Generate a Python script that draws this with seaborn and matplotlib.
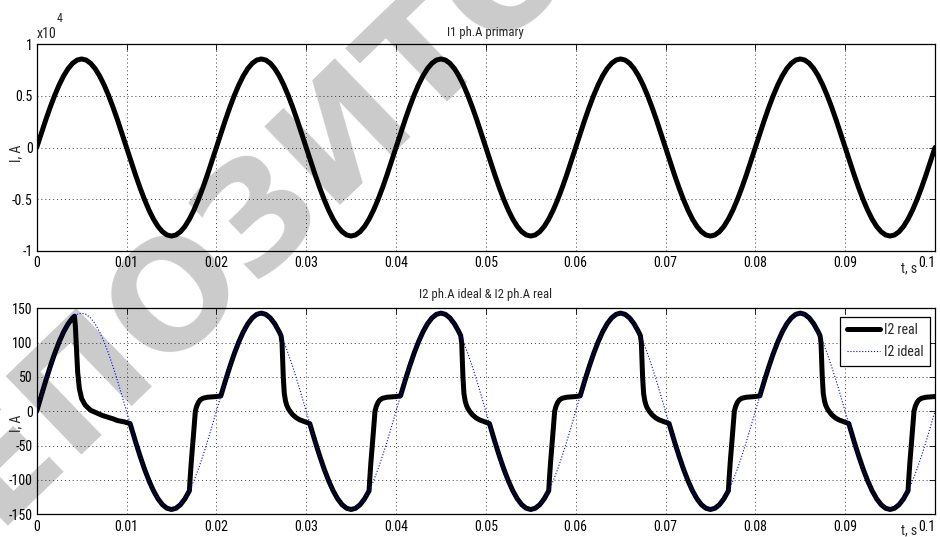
import os
import numpy as np
import pandas as pd
import matplotlib
matplotlib.use("Agg")
import matplotlib.pyplot as plt
from matplotlib import font_manager as fm
from matplotlib.font_manager import FontProperties
import seaborn as sns

# ---------------- data ----------------
t_fine = np.linspace(0.0, 0.1, 201)          # sampling time base, s

i1_primary = [
    0, 1342, 2651, 3895, 5043, 6067, 6941, 7645, 8160, 8474, 8580, 8474, 8160, 7645, 6941, 6067, 5043, 3895, 2651, 1342,
    0, -1342, -2651, -3895, -5043, -6067, -6941, -7645, -8160, -8474, -8580, -8474, -8160, -7645, -6941, -6067, -5043, -3895, -2651, -1342,
    0, 1342, 2651, 3895, 5043, 6067, 6941, 7645, 8160, 8474, 8580, 8474, 8160, 7645, 6941, 6067, 5043, 3895, 2651, 1342,
    0, -1342, -2651, -3895, -5043, -6067, -6941, -7645, -8160, -8474, -8580, -8474, -8160, -7645, -6941, -6067, -5043, -3895, -2651, -1342,
    0, 1342, 2651, 3895, 5043, 6067, 6941, 7645, 8160, 8474, 8580, 8474, 8160, 7645, 6941, 6067, 5043, 3895, 2651, 1342,
    0, -1342, -2651, -3895, -5043, -6067, -6941, -7645, -8160, -8474, -8580, -8474, -8160, -7645, -6941, -6067, -5043, -3895, -2651, -1342,
    0, 1342, 2651, 3895, 5043, 6067, 6941, 7645, 8160, 8474, 8580, 8474, 8160, 7645, 6941, 6067, 5043, 3895, 2651, 1342,
    0, -1342, -2651, -3895, -5043, -6067, -6941, -7645, -8160, -8474, -8580, -8474, -8160, -7645, -6941, -6067, -5043, -3895, -2651, -1342,
    0, 1342, 2651, 3895, 5043, 6067, 6941, 7645, 8160, 8474, 8580, 8474, 8160, 7645, 6941, 6067, 5043, 3895, 2651, 1342,
    0, -1342, -2651, -3895, -5043, -6067, -6941, -7645, -8160, -8474, -8580, -8474, -8160, -7645, -6941, -6067, -5043, -3895, -2651, -1342,
    0,
]

i2_ideal = [
    0, 22.4, 44.2, 64.9, 84.1, 101.1, 115.7, 127.4, 136.0, 141.2, 143, 141.2, 136.0, 127.4, 115.7, 101.1, 84.1, 64.9, 44.2, 22.4,
    0, -22.4, -44.2, -64.9, -84.1, -101.1, -115.7, -127.4, -136.0, -141.2, -143, -141.2, -136.0, -127.4, -115.7, -101.1, -84.1, -64.9, -44.2, -22.4,
    0, 22.4, 44.2, 64.9, 84.1, 101.1, 115.7, 127.4, 136.0, 141.2, 143, 141.2, 136.0, 127.4, 115.7, 101.1, 84.1, 64.9, 44.2, 22.4,
    0, -22.4, -44.2, -64.9, -84.1, -101.1, -115.7, -127.4, -136.0, -141.2, -143, -141.2, -136.0, -127.4, -115.7, -101.1, -84.1, -64.9, -44.2, -22.4,
    0, 22.4, 44.2, 64.9, 84.1, 101.1, 115.7, 127.4, 136.0, 141.2, 143, 141.2, 136.0, 127.4, 115.7, 101.1, 84.1, 64.9, 44.2, 22.4,
    0, -22.4, -44.2, -64.9, -84.1, -101.1, -115.7, -127.4, -136.0, -141.2, -143, -141.2, -136.0, -127.4, -115.7, -101.1, -84.1, -64.9, -44.2, -22.4,
    0, 22.4, 44.2, 64.9, 84.1, 101.1, 115.7, 127.4, 136.0, 141.2, 143, 141.2, 136.0, 127.4, 115.7, 101.1, 84.1, 64.9, 44.2, 22.4,
    0, -22.4, -44.2, -64.9, -84.1, -101.1, -115.7, -127.4, -136.0, -141.2, -143, -141.2, -136.0, -127.4, -115.7, -101.1, -84.1, -64.9, -44.2, -22.4,
    0, 22.4, 44.2, 64.9, 84.1, 101.1, 115.7, 127.4, 136.0, 141.2, 143, 141.2, 136.0, 127.4, 115.7, 101.1, 84.1, 64.9, 44.2, 22.4,
    0, -22.4, -44.2, -64.9, -84.1, -101.1, -115.7, -127.4, -136.0, -141.2, -143, -141.2, -136.0, -127.4, -115.7, -101.1, -84.1, -64.9, -44.2, -22.4,
    0,
]

t_real = [
    0, 0.0005, 0.001, 0.0015, 0.002, 0.0025, 0.003, 0.0035, 0.004, 0.0042, 0.0043, 0.00437, 0.00445, 0.00456, 0.00475,
    0.005, 0.0054, 0.006, 0.0067, 0.0073, 0.008, 0.0085, 0.009, 0.0098, 0.0104, 0.011, 0.0115, 0.012, 0.0125, 0.013,
    0.0135, 0.014, 0.0145, 0.015, 0.0155, 0.016, 0.0165, 0.017, 0.01707, 0.0172, 0.01736, 0.01751, 0.01766, 0.0178,
    0.018, 0.0182, 0.0185, 0.019, 0.0195,
    0.02, 0.0205, 0.021, 0.0215, 0.022, 0.0225, 0.023, 0.0235, 0.024, 0.0245, 0.025, 0.0255, 0.026, 0.0265, 0.027,
    0.0272, 0.02731, 0.02738, 0.02745, 0.02756, 0.0277, 0.02783, 0.028, 0.0282, 0.0285, 0.0289, 0.0293, 0.0297, 0.03,
    0.0304, 0.031, 0.0315, 0.032, 0.0325, 0.033, 0.0335, 0.034, 0.0345, 0.035, 0.0355, 0.036, 0.0365, 0.037, 0.03707,
    0.0372, 0.03736, 0.03751, 0.03766, 0.0378, 0.038, 0.0382, 0.0385, 0.039, 0.0395,
    0.04, 0.0405, 0.041, 0.0415, 0.042, 0.0425, 0.043, 0.0435, 0.044, 0.0445, 0.045, 0.0455, 0.046, 0.0465, 0.047,
    0.0472, 0.04731, 0.04738, 0.04745, 0.04756, 0.0477, 0.04783, 0.048, 0.0482, 0.0485, 0.0489, 0.0493, 0.0497, 0.05,
    0.0504, 0.051, 0.0515, 0.052, 0.0525, 0.053, 0.0535, 0.054, 0.0545, 0.055, 0.0555, 0.056, 0.0565, 0.057, 0.05707,
    0.0572, 0.05736, 0.05751, 0.05766, 0.0578, 0.058, 0.0582, 0.0585, 0.059, 0.0595,
    0.06, 0.0605, 0.061, 0.0615, 0.062, 0.0625, 0.063, 0.0635, 0.064, 0.0645, 0.065, 0.0655, 0.066, 0.0665, 0.067,
    0.0672, 0.06731, 0.06738, 0.06745, 0.06756, 0.0677, 0.06783, 0.068, 0.0682, 0.0685, 0.0689, 0.0693, 0.0697, 0.07,
    0.0704, 0.071, 0.0715, 0.072, 0.0725, 0.073, 0.0735, 0.074, 0.0745, 0.075, 0.0755, 0.076, 0.0765, 0.077, 0.07707,
    0.0772, 0.07736, 0.07751, 0.07766, 0.0778, 0.078, 0.0782, 0.0785, 0.079, 0.0795,
    0.08, 0.0805, 0.081, 0.0815, 0.082, 0.0825, 0.083, 0.0835, 0.084, 0.0845, 0.085, 0.0855, 0.086, 0.0865, 0.087,
    0.0872, 0.08731, 0.08738, 0.08745, 0.08756, 0.0877, 0.08783, 0.088, 0.0882, 0.0885, 0.0889, 0.0893, 0.0897, 0.09,
    0.0904, 0.091, 0.0915, 0.092, 0.0925, 0.093, 0.0935, 0.094, 0.0945, 0.095, 0.0955, 0.096, 0.0965, 0.097, 0.09707,
    0.0972, 0.09736, 0.09751, 0.09766, 0.0978, 0.098, 0.0982, 0.0985, 0.099, 0.0995, 0.1,
]

i2_real = [
    0, 22.4, 44.2, 64.9, 84.1, 101.1, 115.7, 127.4, 136.0, 138.5, 125, 106, 82, 57, 33,
    18.5, 9, 1.5, -2.5, -6, -9, -11, -13.5, -15.6, -17.9, -44.2, -64.9, -84.1, -101.1, -115.7,
    -127.4, -136.0, -141.2, -143, -141.2, -136.0, -127.4, -115.7, -100, -75, -50, -25, 0, 7,
    13, 16.5, 19, 20.5, 21,
    21.5, 22.4, 44.2, 64.9, 84.1, 101.1, 115.7, 127.4, 136.0, 141.2, 143, 141.2, 136.0, 127.4, 115.7,
    110.2, 100, 75, 50, 26, 15, 9, 4, 0, -5, -9.5, -12.5, -14.5, -16,
    -17.9, -44.2, -64.9, -84.1, -101.1, -115.7, -127.4, -136.0, -141.2, -143, -141.2, -136.0, -127.4, -115.7, -100,
    -75, -50, -25, 0, 7, 13, 16.5, 19, 20.5, 21,
    21.5, 22.4, 44.2, 64.9, 84.1, 101.1, 115.7, 127.4, 136.0, 141.2, 143, 141.2, 136.0, 127.4, 115.7,
    110.2, 100, 75, 50, 26, 15, 9, 4, 0, -5, -9.5, -12.5, -14.5, -16,
    -17.9, -44.2, -64.9, -84.1, -101.1, -115.7, -127.4, -136.0, -141.2, -143, -141.2, -136.0, -127.4, -115.7, -100,
    -75, -50, -25, 0, 7, 13, 16.5, 19, 20.5, 21,
    21.5, 22.4, 44.2, 64.9, 84.1, 101.1, 115.7, 127.4, 136.0, 141.2, 143, 141.2, 136.0, 127.4, 115.7,
    110.2, 100, 75, 50, 26, 15, 9, 4, 0, -5, -9.5, -12.5, -14.5, -16,
    -17.9, -44.2, -64.9, -84.1, -101.1, -115.7, -127.4, -136.0, -141.2, -143, -141.2, -136.0, -127.4, -115.7, -100,
    -75, -50, -25, 0, 7, 13, 16.5, 19, 20.5, 21,
    21.5, 22.4, 44.2, 64.9, 84.1, 101.1, 115.7, 127.4, 136.0, 141.2, 143, 141.2, 136.0, 127.4, 115.7,
    110.2, 100, 75, 50, 26, 15, 9, 4, 0, -5, -9.5, -12.5, -14.5, -16,
    -17.9, -44.2, -64.9, -84.1, -101.1, -115.7, -127.4, -136.0, -141.2, -143, -141.2, -136.0, -127.4, -115.7, -100,
    -75, -50, -25, 0, 7, 13, 16.5, 19, 20.5, 21, 21.5,
]

x_ticks = [0, 0.01, 0.02, 0.03, 0.04, 0.05, 0.06, 0.07, 0.08, 0.09, 0.1]
x_tick_labels = ["0", "0.01", "0.02", "0.03", "0.04", "0.05", "0.06", "0.07", "0.08", "0.09", "0.1"]
y1_ticks = [-10000, -5000, 0, 5000, 10000]
y1_tick_labels = ["-1", "-0.5", "0", "0.5", "1"]
y2_ticks = [-150, -100, -50, 0, 50, 100, 150]
y2_tick_labels = ["-150", "-100", "-50", "0", "50", "100", "150"]

title1 = "I1 ph.A primary"
title2 = "I2 ph.A ideal & I2 ph.A real"
y_label = "I, A"
x_label = "t, s"
legend_real = "I2 real"
legend_ideal = "I2 ideal"
watermark = "РЕПОЗИТОРИЙ"

df_fine = pd.DataFrame({"t": t_fine, "i1": i1_primary, "i2_ideal": i2_ideal})
df_real = pd.DataFrame({"t": t_real, "i2_real": i2_real})

# ---------------- style ----------------
sns.set_theme(style="white")
plt.rcParams["font.family"] = ["Liberation Sans", "DejaVu Sans"]
plt.rcParams["axes.unicode_minus"] = False

# look for a narrow face (the reference uses condensed lettering)
_files = {}
for f in fm.fontManager.ttflist:
    _files.setdefault(os.path.splitext(os.path.basename(f.fname))[0].lower(), f.fname)

def find_font(cands):
    for c in cands:
        if c.lower() in _files:
            return _files[c.lower()]
    return None

narrow_regular = find_font(["NotoSans-ExtraCondensed", "LiberationSansNarrow-Regular",
                            "NotoSans-Condensed", "RobotoCondensed-Regular",
                            "DejaVuSansCondensed"])

def fprop(size):
    if narrow_regular:
        return FontProperties(fname=narrow_regular, size=size)
    return FontProperties(family=["Liberation Sans", "DejaVu Sans"], size=size)

TICK_FP = fprop(10)
TITLE_FP = fprop(9.2)
LABEL_FP = fprop(10)
SUP_FP = fprop(8.5)

W, H = 940, 537
fig = plt.figure(figsize=(W / 100, H / 100), dpi=100)
fig.patch.set_facecolor("white")

# watermark behind everything
fig.text(350 / W, 1 - 124 / H, watermark, rotation=44, rotation_mode="anchor",
         ha="center", va="center", family=["DejaVu Sans"], fontweight="bold",
         fontsize=108, color="#cbcbcb", zorder=-5)

ax1 = fig.add_axes([36.7 / W, 1 - 250.7 / H, 898.3 / W, 206.4 / H])
ax2 = fig.add_axes([36.7 / W, 1 - 514.3 / H, 898.3 / W, 206.0 / H])


def style_axes(ax, yticks, ylabels):
    ax.set_facecolor("none")
    for s in ax.spines.values():
        s.set_color("black")
        s.set_linewidth(0.9)
        s.set_visible(True)
    ax.tick_params(axis="both", direction="in", length=4, width=0.6, top=True, right=True,
                   colors="black")
    ax.tick_params(axis="x", pad=4.0)
    ax.tick_params(axis="y", pad=3.0)
    ax.grid(True, color="#222222", linestyle=(0, (1.2, 3.5)), linewidth=0.6)
    ax.set_axisbelow(True)
    ax.set_xlim(0, 0.1)
    ax.set_xticks(x_ticks)
    ax.set_xticklabels(x_tick_labels, fontproperties=TICK_FP)
    ax.set_yticks(yticks)
    ax.set_yticklabels(ylabels, fontproperties=TICK_FP)
    ax.get_xticklabels()[-1].set_horizontalalignment("right")
    ax.set_xlabel("")


# top plot
sns.lineplot(data=df_fine, x="t", y="i1", ax=ax1, color="black", linewidth=3.6,
             estimator=None, sort=False)
ax1.set_ylim(-10000, 10000)
style_axes(ax1, y1_ticks, y1_tick_labels)
ax1.set_ylabel(y_label, fontproperties=LABEL_FP)
ax1.yaxis.set_label_coords(-0.0145, 0.47)
ax1.set_title(title1, fontproperties=TITLE_FP, pad=6.0)

# bottom plot
sns.lineplot(data=df_real, x="t", y="i2_real", ax=ax2, color="black", linewidth=3.6,
             estimator=None, sort=False, label=legend_real)
sns.lineplot(data=df_fine, x="t", y="i2_ideal", ax=ax2, color="#0000ff", linewidth=0.8,
             linestyle=":", estimator=None, sort=False, label=legend_ideal)
ax2.set_ylim(-150, 150)
style_axes(ax2, y2_ticks, y2_tick_labels)
ax2.set_ylabel(y_label, fontproperties=LABEL_FP)
ax2.yaxis.set_label_coords(-0.0145, 0.44)
ax2.set_title(title2, fontproperties=TITLE_FP, pad=7.5)

leg = ax2.legend(loc="upper right", bbox_to_anchor=(0.9944, 0.959), prop=fprop(10),
                 frameon=True, fancybox=False, framealpha=1, edgecolor="black",
                 handlelength=2.4, handletextpad=0.3, borderpad=0.45, labelspacing=0.6,
                 borderaxespad=0.0)
leg.get_frame().set_linewidth(0.9)

# "x10^4" multiplier and "t, s" labels
fig.text(37 / W, 1 - 34 / H, "x10", fontproperties=LABEL_FP, ha="left", va="center")
fig.text(57 / W, 1 - 18 / H, "4", fontproperties=SUP_FP, ha="left", va="center")
fig.text(909 / W, 1 - 268 / H, x_label, fontproperties=LABEL_FP, ha="center", va="center")
fig.text(909 / W, 1 - 530 / H, x_label, fontproperties=LABEL_FP, ha="center", va="center")

fig.savefig("out.png", dpi=100, facecolor="white")
